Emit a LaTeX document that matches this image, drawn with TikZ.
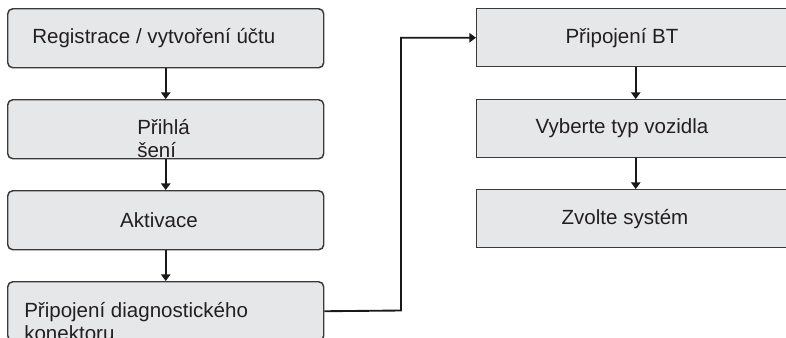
\documentclass[tikz,border=0pt]{standalone}
\usepackage{fontspec}
\setmainfont{Liberation Sans}
\usetikzlibrary{arrows.meta}
\definecolor{boxfill}{HTML}{E6E7E8}
\definecolor{boxline}{HTML}{3A3A3A}
\definecolor{txt}{HTML}{231F20}
\tikzset{
  rbox/.style={draw=boxline, fill=boxfill, line width=1.1pt, rounded corners=3.8pt, minimum width=237pt, minimum height=44.25pt, inner sep=0pt, anchor=north west},
  sbox/.style={draw=boxline, fill=boxfill, line width=1.1pt, minimum width=238.5pt, minimum height=43.5pt, inner sep=0pt, anchor=north west},
  lbl/.style={text=txt, inner sep=0pt, font=\fontsize{15.4}{17.25}\selectfont, align=left},
  arr/.style={draw=black!90, line width=1.4pt, -{Triangle[length=5pt,width=7pt]}}
}
\begin{document}
\begin{tikzpicture}[x=0.75pt, y=-0.75pt]
\useasboundingbox (0,0) rectangle (786,337);
\clip (0,0) rectangle (786,337);
% left column
\node[rbox] (b1) at (7,8) {};
\node[rbox] (b2) at (7,99) {};
\node[rbox] (b3) at (7,190) {};
\node[rbox] (b4) at (7,281) {};
% right column
\node[sbox] (r1) at (476,8) {};
\node[sbox] (r2) at (476,99) {};
\node[sbox] (r3) at (476,189) {};
% texts
\node[lbl, anchor=west] (t1) at (32,38) {Registrace / vytvoření účtu};
\node[lbl, anchor=north west] (t2) at (137,119) {Přihlá\\šení};
\node[lbl] (t3) at (159,220) {Aktivace};
\node[lbl, anchor=north west] (t4) at (24,302) {Připojení diagnostického\\konektoru};
\node[lbl] (t5) at (622,38) {Připojení BT};
\node[lbl] (t6) at (622,128) {Vyberte typ vozidla};
\node[lbl] (t7) at (625,219) {Zvolte systém};
% connectors
\draw[arr] (b1.south) -- (b2.north);
\draw[arr] (b2.south) -- (b3.north);
\draw[arr] (b3.south) -- (b4.north);
\draw[arr] (r1.south) -- (r2.north);
\draw[arr] (r2.south) -- (r3.north);
\coordinate (bend) at (401,310.5);
\draw[arr] (b4.east) -- (bend) |- (r1.west);
\end{tikzpicture}
\end{document}
